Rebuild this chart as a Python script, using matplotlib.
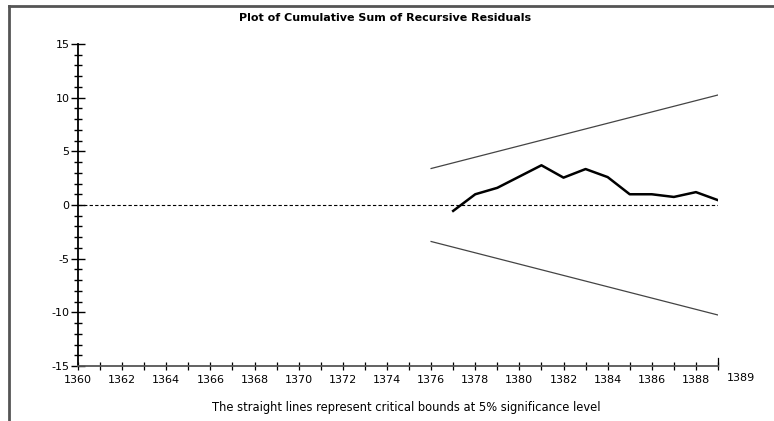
import numpy as np
import matplotlib
matplotlib.use('Agg')
import matplotlib.pyplot as plt
from matplotlib.lines import Line2D

plt.rcParams['axes.unicode_minus'] = False

# cusum of recursive residuals
years = [1377, 1378, 1379, 1380, 1381, 1382, 1383, 1384, 1385, 1386, 1387, 1388, 1389]
cusum = [-0.55, 1.0, 1.6, 2.65, 3.7, 2.55, 3.35, 2.6, 1.0, 1.0, 0.75, 1.2, 0.45]

# 5% critical bounds
bound_years = [1376, 1389]
upper = [3.4, 10.25]
lower = [-3.4, -10.25]

xlabels = list(range(1360, 1389, 2))

fig = plt.figure(figsize=(7.74, 4.21), dpi=100)
ax = fig.add_axes([78/774, 1 - 366/421, 640/774, 322/421])

ax.plot(bound_years, upper, color='#444444', lw=0.9)
ax.plot(bound_years, lower, color='#444444', lw=0.9)
ax.plot([1360, 1389], [0, 0], color='black', lw=0.8, ls=(0, (3, 2)))
ax.plot(years, cusum, color='black', lw=1.8)

ax.set_xlim(1360, 1389)
ax.set_ylim(-15, 15)
for s in ['top', 'right']:
    ax.spines[s].set_visible(False)
ax.spines['left'].set_linewidth(1.3)
ax.spines['bottom'].set_linewidth(1.3)
ax.spines['bottom'].set_color('#555555')

ax.set_yticks(np.arange(-15, 16, 5))
ax.set_yticks(np.arange(-15, 16, 1), minor=True)
ax.set_xticks(np.arange(1360, 1390, 1))
ax.set_xticks([], minor=True)
ax.set_xticklabels([str(y) if y in xlabels else '' for y in range(1360, 1390)])
ax.tick_params(axis='y', which='major', direction='inout', length=10, width=1, labelsize=8, pad=1)
ax.tick_params(axis='y', which='minor', direction='inout', length=5.5, width=1)
ax.tick_params(axis='x', which='major', direction='inout', length=6, width=0.9, labelsize=8, pad=3.5)

# the last year sits apart, with a slightly longer tick
ax.plot([1389, 1389], [-15, -14.3], color='black', lw=0.9, clip_on=False)
ax.text(1389.4, -16.1, '1389', fontsize=8, ha='left', va='center')

fig.text(0.498, 1 - 18/421, 'Plot of Cumulative Sum of Recursive Residuals',
         fontsize=8, fontweight='bold', ha='center', va='center')
fig.text(0.525, 1 - 408/421, 'The straight lines represent critical bounds at 5% significance level',
         fontsize=8.3, ha='center', va='center')

# frame around the picture (only left and top visible)
fig.add_artist(Line2D([9/774, 9/774], [0, 1 - 6/421], color='#555555', lw=2))
fig.add_artist(Line2D([9/774, 1], [1 - 6/421, 1 - 6/421], color='#555555', lw=2))

fig.savefig('out.png', dpi=100)
